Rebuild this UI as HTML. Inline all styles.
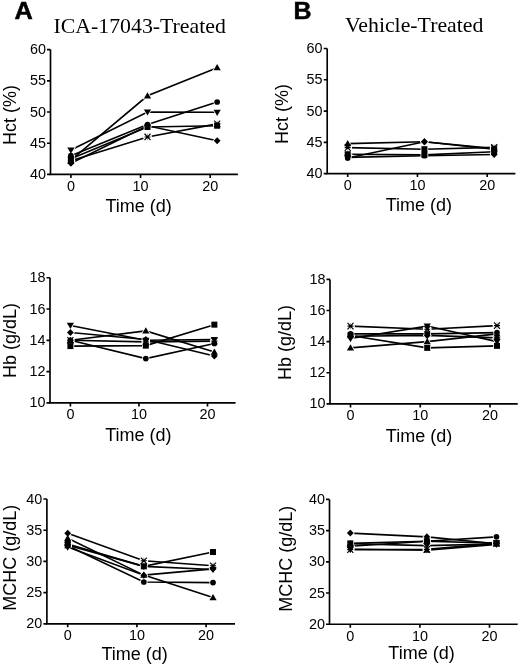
<!DOCTYPE html>
<html><head><meta charset="utf-8"><style>
html,body{margin:0;padding:0;background:#fff;width:520px;height:666px;overflow:hidden}
svg{display:block;will-change:transform}
.halo *{fill:#fff;stroke:#fff;stroke-width:1.6}
.s{font-family:"Liberation Sans",sans-serif}
.r{font-family:"Liberation Serif",serif}
</style></head><body>
<svg width="520" height="666" viewBox="0 0 520 666">
<rect width="520" height="666" fill="#fff"/>

<text class="s" x="14.6" y="19.4" font-size="24" font-weight="bold" stroke="#000" stroke-width="0.5" textLength="18.3" lengthAdjust="spacingAndGlyphs">A</text>
<text class="s" x="293.6" y="19.2" font-size="24" font-weight="bold" stroke="#000" stroke-width="0.5" textLength="18.0" lengthAdjust="spacingAndGlyphs">B</text>
<text class="r" x="139.7" y="33.4" font-size="21.8" text-anchor="middle">ICA-17043-Treated</text>
<text class="r" x="414.2" y="32.2" font-size="21.8" text-anchor="middle">Vehicle-Treated</text>
<path fill="none" stroke="#000" stroke-width="1.65" d="M50.50,49.60V174.40H237.90"/>
<text class="s" x="45.90" y="178.90" font-size="14.4" text-anchor="end">40</text>
<text class="s" x="45.90" y="147.70" font-size="14.4" text-anchor="end">45</text>
<text class="s" x="45.90" y="116.50" font-size="14.4" text-anchor="end">50</text>
<text class="s" x="45.90" y="85.30" font-size="14.4" text-anchor="end">55</text>
<text class="s" x="45.90" y="54.10" font-size="14.4" text-anchor="end">60</text>
<text class="s" x="70.90" y="190.80" font-size="14.4" text-anchor="middle">0</text>
<text class="s" x="140.55" y="190.80" font-size="14.4" text-anchor="middle">10</text>
<text class="s" x="210.20" y="190.80" font-size="14.4" text-anchor="middle">20</text>
<path fill="none" stroke="#000" stroke-width="1.65" d="M47.00,174.40H50.50M47.00,143.20H50.50M47.00,112.00H50.50M47.00,80.80H50.50M47.00,49.60H50.50M70.90,174.40V177.90M140.55,174.40V177.90M210.20,174.40V177.90"/>
<text class="s" x="138.60" y="212.00" font-size="18" text-anchor="middle">Time (d)</text>
<text class="s" transform="translate(16.30,115.10) rotate(-90)" x="0" y="0" font-size="18" text-anchor="middle">Hct (%)</text>
<polyline fill="none" stroke="#000" stroke-width="1.6" points="70.90,160.05 147.51,95.78 217.16,67.70"/>
<polyline fill="none" stroke="#000" stroke-width="1.6" points="70.90,150.06 147.51,112.00 217.16,112.31"/>
<polyline fill="none" stroke="#000" stroke-width="1.6" points="70.90,155.68 147.51,124.48 217.16,102.02"/>
<polyline fill="none" stroke="#000" stroke-width="1.6" points="70.90,158.80 147.51,126.98 217.16,125.73"/>
<polyline fill="none" stroke="#000" stroke-width="1.6" points="70.90,160.67 147.51,136.96 217.16,123.86"/>
<polyline fill="none" stroke="#000" stroke-width="1.6" points="70.90,163.17 147.51,125.73 217.16,140.70"/>
<g class="halo">
<circle cx="70.90" cy="160.67" r="3.6"/>
<circle cx="147.51" cy="136.96" r="3.6"/>
<circle cx="217.16" cy="123.86" r="3.6"/>
<path d="M67.30,162.65L74.50,162.65L70.90,156.45Z"/>
<path d="M143.91,98.38L151.11,98.38L147.51,92.18Z"/>
<path d="M213.56,70.30L220.76,70.30L217.16,64.10Z"/>
<path d="M67.30,147.46L74.50,147.46L70.90,153.66Z"/>
<path d="M143.91,109.40L151.11,109.40L147.51,115.60Z"/>
<path d="M213.56,109.71L220.76,109.71L217.16,115.91Z"/>
<circle cx="70.90" cy="155.68" r="2.85"/>
<circle cx="147.51" cy="124.48" r="2.85"/>
<circle cx="217.16" cy="102.02" r="2.85"/>
<rect x="67.90" y="155.80" width="6" height="6"/>
<rect x="144.51" y="123.98" width="6" height="6"/>
<rect x="214.16" y="122.73" width="6" height="6"/>
<path d="M70.90,159.67L74.30,163.17L70.90,166.67L67.50,163.17Z"/>
<path d="M147.51,122.23L150.91,125.73L147.51,129.23L144.11,125.73Z"/>
<path d="M217.16,137.20L220.56,140.70L217.16,144.20L213.76,140.70Z"/>
</g><g>
<g fill="none" stroke="#000"><path stroke-width="1.15" d="M67.90,157.47L73.90,163.87M67.90,163.87L73.90,157.47M67.90,160.67H73.90"/><path stroke-width="0.6" stroke="#666" d="M70.90,157.47V163.87"/></g><circle cx="70.90" cy="160.67" r="1.3"/>
<g fill="none" stroke="#000"><path stroke-width="1.15" d="M144.51,133.76L150.51,140.16M144.51,140.16L150.51,133.76M144.51,136.96H150.51"/><path stroke-width="0.6" stroke="#666" d="M147.51,133.76V140.16"/></g><circle cx="147.51" cy="136.96" r="1.3"/>
<g fill="none" stroke="#000"><path stroke-width="1.15" d="M214.16,120.66L220.16,127.06M214.16,127.06L220.16,120.66M214.16,123.86H220.16"/><path stroke-width="0.6" stroke="#666" d="M217.16,120.66V127.06"/></g><circle cx="217.16" cy="123.86" r="1.3"/>
<path class="h" d="M67.30,162.65L74.50,162.65L70.90,156.45Z"/>
<path class="h" d="M143.91,98.38L151.11,98.38L147.51,92.18Z"/>
<path class="h" d="M213.56,70.30L220.76,70.30L217.16,64.10Z"/>
<path class="h" d="M67.30,147.46L74.50,147.46L70.90,153.66Z"/>
<path class="h" d="M143.91,109.40L151.11,109.40L147.51,115.60Z"/>
<path class="h" d="M213.56,109.71L220.76,109.71L217.16,115.91Z"/>
<circle class="h" cx="70.90" cy="155.68" r="2.85"/>
<circle class="h" cx="147.51" cy="124.48" r="2.85"/>
<circle class="h" cx="217.16" cy="102.02" r="2.85"/>
<rect class="h" x="67.90" y="155.80" width="6" height="6"/>
<rect class="h" x="144.51" y="123.98" width="6" height="6"/>
<rect class="h" x="214.16" y="122.73" width="6" height="6"/>
<path class="h" d="M70.90,159.67L74.30,163.17L70.90,166.67L67.50,163.17Z"/>
<path class="h" d="M147.51,122.23L150.91,125.73L147.51,129.23L144.11,125.73Z"/>
<path class="h" d="M217.16,137.20L220.56,140.70L217.16,144.20L213.76,140.70Z"/>
</g>
<path fill="none" stroke="#000" stroke-width="1.65" d="M50.00,277.70V402.90H235.60"/>
<text class="s" x="45.40" y="407.40" font-size="14.4" text-anchor="end">10</text>
<text class="s" x="45.40" y="376.10" font-size="14.4" text-anchor="end">12</text>
<text class="s" x="45.40" y="344.80" font-size="14.4" text-anchor="end">14</text>
<text class="s" x="45.40" y="313.50" font-size="14.4" text-anchor="end">16</text>
<text class="s" x="45.40" y="282.20" font-size="14.4" text-anchor="end">18</text>
<text class="s" x="70.40" y="419.30" font-size="14.4" text-anchor="middle">0</text>
<text class="s" x="138.95" y="419.30" font-size="14.4" text-anchor="middle">10</text>
<text class="s" x="207.50" y="419.30" font-size="14.4" text-anchor="middle">20</text>
<path fill="none" stroke="#000" stroke-width="1.65" d="M46.50,402.90H50.00M46.50,371.60H50.00M46.50,340.30H50.00M46.50,309.00H50.00M46.50,277.70H50.00M70.40,402.90V406.40M138.95,402.90V406.40M207.50,402.90V406.40"/>
<text class="s" x="138.40" y="440.80" font-size="18" text-anchor="middle">Time (d)</text>
<text class="s" transform="translate(16.20,340.60) rotate(-90)" x="0" y="0" font-size="18" text-anchor="middle">Hb (g/dL)</text>
<polyline fill="none" stroke="#000" stroke-width="1.6" points="70.40,325.43 145.81,340.30 214.36,339.52"/>
<polyline fill="none" stroke="#000" stroke-width="1.6" points="70.40,332.47 145.81,339.52 214.36,355.95"/>
<polyline fill="none" stroke="#000" stroke-width="1.6" points="70.40,340.30 145.81,330.91 214.36,352.04"/>
<polyline fill="none" stroke="#000" stroke-width="1.6" points="70.40,346.09 145.81,345.62 214.36,324.65"/>
<polyline fill="none" stroke="#000" stroke-width="1.6" points="70.40,340.30 145.81,358.61 214.36,343.43"/>
<polyline fill="none" stroke="#000" stroke-width="1.6" points="70.40,340.30 145.81,341.87 214.36,341.08"/>
<g class="halo">
<circle cx="70.40" cy="340.30" r="3.6"/>
<circle cx="145.81" cy="341.87" r="3.6"/>
<circle cx="214.36" cy="341.08" r="3.6"/>
<path d="M66.80,322.83L74.00,322.83L70.40,329.03Z"/>
<path d="M142.21,337.70L149.41,337.70L145.81,343.90Z"/>
<path d="M210.76,336.92L217.96,336.92L214.36,343.12Z"/>
<path d="M70.40,328.97L73.80,332.47L70.40,335.97L67.00,332.47Z"/>
<path d="M145.81,336.02L149.21,339.52L145.81,343.02L142.41,339.52Z"/>
<path d="M214.36,352.45L217.76,355.95L214.36,359.45L210.96,355.95Z"/>
<path d="M66.80,342.90L74.00,342.90L70.40,336.70Z"/>
<path d="M142.21,333.51L149.41,333.51L145.81,327.31Z"/>
<path d="M210.76,354.64L217.96,354.64L214.36,348.44Z"/>
<rect x="67.40" y="343.09" width="6" height="6"/>
<rect x="142.81" y="342.62" width="6" height="6"/>
<rect x="211.36" y="321.65" width="6" height="6"/>
<circle cx="70.40" cy="340.30" r="2.85"/>
<circle cx="145.81" cy="358.61" r="2.85"/>
<circle cx="214.36" cy="343.43" r="2.85"/>
</g><g>
<g fill="none" stroke="#000"><path stroke-width="1.15" d="M67.40,337.10L73.40,343.50M67.40,343.50L73.40,337.10M67.40,340.30H73.40"/><path stroke-width="0.6" stroke="#666" d="M70.40,337.10V343.50"/></g><circle cx="70.40" cy="340.30" r="1.3"/>
<g fill="none" stroke="#000"><path stroke-width="1.15" d="M142.81,338.67L148.81,345.06M142.81,345.06L148.81,338.67M142.81,341.87H148.81"/><path stroke-width="0.6" stroke="#666" d="M145.81,338.67V345.06"/></g><circle cx="145.81" cy="341.87" r="1.3"/>
<g fill="none" stroke="#000"><path stroke-width="1.15" d="M211.36,337.88L217.36,344.28M211.36,344.28L217.36,337.88M211.36,341.08H217.36"/><path stroke-width="0.6" stroke="#666" d="M214.36,337.88V344.28"/></g><circle cx="214.36" cy="341.08" r="1.3"/>
<path class="h" d="M66.80,322.83L74.00,322.83L70.40,329.03Z"/>
<path class="h" d="M142.21,337.70L149.41,337.70L145.81,343.90Z"/>
<path class="h" d="M210.76,336.92L217.96,336.92L214.36,343.12Z"/>
<path class="h" d="M70.40,328.97L73.80,332.47L70.40,335.97L67.00,332.47Z"/>
<path class="h" d="M145.81,336.02L149.21,339.52L145.81,343.02L142.41,339.52Z"/>
<path class="h" d="M214.36,352.45L217.76,355.95L214.36,359.45L210.96,355.95Z"/>
<path class="h" d="M66.80,342.90L74.00,342.90L70.40,336.70Z"/>
<path class="h" d="M142.21,333.51L149.41,333.51L145.81,327.31Z"/>
<path class="h" d="M210.76,354.64L217.96,354.64L214.36,348.44Z"/>
<rect class="h" x="67.40" y="343.09" width="6" height="6"/>
<rect class="h" x="142.81" y="342.62" width="6" height="6"/>
<rect class="h" x="211.36" y="321.65" width="6" height="6"/>
<circle class="h" cx="70.40" cy="340.30" r="2.85"/>
<circle class="h" cx="145.81" cy="358.61" r="2.85"/>
<circle class="h" cx="214.36" cy="343.43" r="2.85"/>
</g>
<path fill="none" stroke="#000" stroke-width="1.65" d="M46.90,499.00V623.80H235.00"/>
<text class="s" x="42.30" y="628.30" font-size="14.4" text-anchor="end">20</text>
<text class="s" x="42.30" y="597.10" font-size="14.4" text-anchor="end">25</text>
<text class="s" x="42.30" y="565.90" font-size="14.4" text-anchor="end">30</text>
<text class="s" x="42.30" y="534.70" font-size="14.4" text-anchor="end">35</text>
<text class="s" x="42.30" y="503.50" font-size="14.4" text-anchor="end">40</text>
<text class="s" x="67.70" y="640.20" font-size="14.4" text-anchor="middle">0</text>
<text class="s" x="136.90" y="640.20" font-size="14.4" text-anchor="middle">10</text>
<text class="s" x="206.10" y="640.20" font-size="14.4" text-anchor="middle">20</text>
<path fill="none" stroke="#000" stroke-width="1.65" d="M43.40,623.80H46.90M43.40,592.60H46.90M43.40,561.40H46.90M43.40,530.20H46.90M43.40,499.00H46.90M67.70,623.80V627.30M136.90,623.80V627.30M206.10,623.80V627.30"/>
<text class="s" x="134.60" y="659.70" font-size="18" text-anchor="middle">Time (d)</text>
<text class="s" transform="translate(16.40,557.80) rotate(-90)" x="0" y="0" font-size="18" text-anchor="middle">MCHC (g/dL)</text>
<polyline fill="none" stroke="#000" stroke-width="1.6" points="67.70,533.32 143.82,560.78 213.02,565.77"/>
<polyline fill="none" stroke="#000" stroke-width="1.6" points="67.70,538.31 143.82,575.13 213.02,597.59"/>
<polyline fill="none" stroke="#000" stroke-width="1.6" points="67.70,543.93 143.82,566.39 213.02,552.04"/>
<polyline fill="none" stroke="#000" stroke-width="1.6" points="67.70,545.18 143.82,566.39 213.02,569.51"/>
<polyline fill="none" stroke="#000" stroke-width="1.6" points="67.70,547.05 143.82,575.13 213.02,568.89"/>
<polyline fill="none" stroke="#000" stroke-width="1.6" points="67.70,545.80 143.82,581.99 213.02,582.62"/>
<g class="halo">
<circle cx="143.82" cy="560.78" r="3.6"/>
<circle cx="213.02" cy="565.77" r="3.6"/>
<circle cx="67.70" cy="545.18" r="3.6"/>
<path d="M67.70,529.82L71.10,533.32L67.70,536.82L64.30,533.32Z"/>
<path d="M64.10,540.91L71.30,540.91L67.70,534.71Z"/>
<path d="M140.22,577.73L147.42,577.73L143.82,571.53Z"/>
<path d="M209.42,600.19L216.62,600.19L213.02,593.99Z"/>
<rect x="64.70" y="540.93" width="6" height="6"/>
<rect x="140.82" y="563.39" width="6" height="6"/>
<rect x="210.02" y="549.04" width="6" height="6"/>
<path d="M140.22,563.79L147.42,563.79L143.82,569.99Z"/>
<path d="M209.42,566.91L216.62,566.91L213.02,573.11Z"/>
<path d="M64.10,544.45L71.30,544.45L67.70,550.65Z"/>
<path d="M143.82,571.63L147.22,575.13L143.82,578.63L140.42,575.13Z"/>
<path d="M213.02,565.39L216.42,568.89L213.02,572.39L209.62,568.89Z"/>
<circle cx="67.70" cy="545.80" r="2.85"/>
<circle cx="143.82" cy="581.99" r="2.85"/>
<circle cx="213.02" cy="582.62" r="2.85"/>
</g><g>
<g fill="none" stroke="#000"><path stroke-width="1.15" d="M140.82,557.58L146.82,563.98M140.82,563.98L146.82,557.58M140.82,560.78H146.82"/><path stroke-width="0.6" stroke="#666" d="M143.82,557.58V563.98"/></g><circle cx="143.82" cy="560.78" r="1.3"/>
<g fill="none" stroke="#000"><path stroke-width="1.15" d="M210.02,562.57L216.02,568.97M210.02,568.97L216.02,562.57M210.02,565.77H216.02"/><path stroke-width="0.6" stroke="#666" d="M213.02,562.57V568.97"/></g><circle cx="213.02" cy="565.77" r="1.3"/>
<g fill="none" stroke="#000"><path stroke-width="1.15" d="M64.70,541.98L70.70,548.38M64.70,548.38L70.70,541.98M64.70,545.18H70.70"/><path stroke-width="0.6" stroke="#666" d="M67.70,541.98V548.38"/></g><circle cx="67.70" cy="545.18" r="1.3"/>
<path class="h" d="M67.70,529.82L71.10,533.32L67.70,536.82L64.30,533.32Z"/>
<path class="h" d="M64.10,540.91L71.30,540.91L67.70,534.71Z"/>
<path class="h" d="M140.22,577.73L147.42,577.73L143.82,571.53Z"/>
<path class="h" d="M209.42,600.19L216.62,600.19L213.02,593.99Z"/>
<rect class="h" x="64.70" y="540.93" width="6" height="6"/>
<rect class="h" x="140.82" y="563.39" width="6" height="6"/>
<rect class="h" x="210.02" y="549.04" width="6" height="6"/>
<path class="h" d="M140.22,563.79L147.42,563.79L143.82,569.99Z"/>
<path class="h" d="M209.42,566.91L216.62,566.91L213.02,573.11Z"/>
<path class="h" d="M64.10,544.45L71.30,544.45L67.70,550.65Z"/>
<path class="h" d="M143.82,571.63L147.22,575.13L143.82,578.63L140.42,575.13Z"/>
<path class="h" d="M213.02,565.39L216.42,568.89L213.02,572.39L209.62,568.89Z"/>
<circle class="h" cx="67.70" cy="545.80" r="2.85"/>
<circle class="h" cx="143.82" cy="581.99" r="2.85"/>
<circle class="h" cx="213.02" cy="582.62" r="2.85"/>
</g>
<path fill="none" stroke="#000" stroke-width="1.65" d="M327.20,48.50V173.60H515.40"/>
<text class="s" x="322.60" y="178.10" font-size="14.4" text-anchor="end">40</text>
<text class="s" x="322.60" y="146.82" font-size="14.4" text-anchor="end">45</text>
<text class="s" x="322.60" y="115.55" font-size="14.4" text-anchor="end">50</text>
<text class="s" x="322.60" y="84.27" font-size="14.4" text-anchor="end">55</text>
<text class="s" x="322.60" y="53.00" font-size="14.4" text-anchor="end">60</text>
<text class="s" x="347.70" y="190.00" font-size="14.4" text-anchor="middle">0</text>
<text class="s" x="417.45" y="190.00" font-size="14.4" text-anchor="middle">10</text>
<text class="s" x="487.20" y="190.00" font-size="14.4" text-anchor="middle">20</text>
<path fill="none" stroke="#000" stroke-width="1.65" d="M323.70,173.60H327.20M323.70,142.32H327.20M323.70,111.05H327.20M323.70,79.77H327.20M323.70,48.50H327.20M347.70,173.60V177.10M417.45,173.60V177.10M487.20,173.60V177.10"/>
<text class="s" x="418.85" y="210.80" font-size="18" text-anchor="middle">Time (d)</text>
<text class="s" transform="translate(287.60,114.00) rotate(-90)" x="0" y="0" font-size="18" text-anchor="middle">Hct (%)</text>
<polyline fill="none" stroke="#000" stroke-width="1.6" points="347.70,143.58 424.42,141.70 494.17,148.58"/>
<polyline fill="none" stroke="#000" stroke-width="1.6" points="347.70,147.64 424.42,149.21 494.17,147.33"/>
<polyline fill="none" stroke="#000" stroke-width="1.6" points="347.70,157.96 424.42,141.70 494.17,149.21"/>
<polyline fill="none" stroke="#000" stroke-width="1.6" points="347.70,154.21 424.42,154.84 494.17,151.71"/>
<polyline fill="none" stroke="#000" stroke-width="1.6" points="347.70,157.34 424.42,155.77 494.17,154.52"/>
<g class="halo">
<circle cx="494.17" cy="148.58" r="3.6"/>
<circle cx="347.70" cy="147.64" r="3.6"/>
<circle cx="494.17" cy="147.33" r="3.6"/>
<path d="M344.10,146.18L351.30,146.18L347.70,139.98Z"/>
<path d="M424.42,138.20L427.82,141.70L424.42,145.20L421.02,141.70Z"/>
<rect x="421.42" y="146.21" width="6" height="6"/>
<circle cx="347.70" cy="157.96" r="2.85"/>
<path d="M424.42,138.20L427.82,141.70L424.42,145.20L421.02,141.70Z"/>
<circle cx="494.17" cy="149.21" r="2.85"/>
<rect x="344.70" y="151.21" width="6" height="6"/>
<rect x="421.42" y="151.84" width="6" height="6"/>
<rect x="491.17" y="148.71" width="6" height="6"/>
<path d="M344.10,154.74L351.30,154.74L347.70,160.94Z"/>
<circle cx="424.42" cy="155.77" r="2.85"/>
<path d="M494.17,151.02L497.57,154.52L494.17,158.02L490.77,154.52Z"/>
</g><g>
<g fill="none" stroke="#000"><path stroke-width="1.15" d="M491.17,145.38L497.17,151.78M491.17,151.78L497.17,145.38M491.17,148.58H497.17"/><path stroke-width="0.6" stroke="#666" d="M494.17,145.38V151.78"/></g><circle cx="494.17" cy="148.58" r="1.3"/>
<g fill="none" stroke="#000"><path stroke-width="1.15" d="M344.70,144.44L350.70,150.84M344.70,150.84L350.70,144.44M344.70,147.64H350.70"/><path stroke-width="0.6" stroke="#666" d="M347.70,144.44V150.84"/></g><circle cx="347.70" cy="147.64" r="1.3"/>
<g fill="none" stroke="#000"><path stroke-width="1.15" d="M491.17,144.13L497.17,150.53M491.17,150.53L497.17,144.13M491.17,147.33H497.17"/><path stroke-width="0.6" stroke="#666" d="M494.17,144.13V150.53"/></g><circle cx="494.17" cy="147.33" r="1.3"/>
<path class="h" d="M344.10,146.18L351.30,146.18L347.70,139.98Z"/>
<path class="h" d="M424.42,138.20L427.82,141.70L424.42,145.20L421.02,141.70Z"/>
<rect class="h" x="421.42" y="146.21" width="6" height="6"/>
<circle class="h" cx="347.70" cy="157.96" r="2.85"/>
<path class="h" d="M424.42,138.20L427.82,141.70L424.42,145.20L421.02,141.70Z"/>
<circle class="h" cx="494.17" cy="149.21" r="2.85"/>
<rect class="h" x="344.70" y="151.21" width="6" height="6"/>
<rect class="h" x="421.42" y="151.84" width="6" height="6"/>
<rect class="h" x="491.17" y="148.71" width="6" height="6"/>
<path class="h" d="M344.10,154.74L351.30,154.74L347.70,160.94Z"/>
<circle class="h" cx="424.42" cy="155.77" r="2.85"/>
<path class="h" d="M494.17,151.02L497.57,154.52L494.17,158.02L490.77,154.52Z"/>
</g>
<path fill="none" stroke="#000" stroke-width="1.65" d="M330.00,279.40V403.90H517.70"/>
<text class="s" x="325.40" y="408.40" font-size="14.4" text-anchor="end">10</text>
<text class="s" x="325.40" y="377.27" font-size="14.4" text-anchor="end">12</text>
<text class="s" x="325.40" y="346.15" font-size="14.4" text-anchor="end">14</text>
<text class="s" x="325.40" y="315.02" font-size="14.4" text-anchor="end">16</text>
<text class="s" x="325.40" y="283.90" font-size="14.4" text-anchor="end">18</text>
<text class="s" x="350.50" y="420.30" font-size="14.4" text-anchor="middle">0</text>
<text class="s" x="420.25" y="420.30" font-size="14.4" text-anchor="middle">10</text>
<text class="s" x="490.00" y="420.30" font-size="14.4" text-anchor="middle">20</text>
<path fill="none" stroke="#000" stroke-width="1.65" d="M326.50,403.90H330.00M326.50,372.77H330.00M326.50,341.65H330.00M326.50,310.52H330.00M326.50,279.40H330.00M350.50,403.90V407.40M420.25,403.90V407.40M490.00,403.90V407.40"/>
<text class="s" x="419.00" y="441.50" font-size="18" text-anchor="middle">Time (d)</text>
<text class="s" transform="translate(290.90,342.60) rotate(-90)" x="0" y="0" font-size="18" text-anchor="middle">Hb (g/dL)</text>
<polyline fill="none" stroke="#000" stroke-width="1.6" points="350.50,335.42 427.23,347.88 496.98,345.85"/>
<polyline fill="none" stroke="#000" stroke-width="1.6" points="350.50,326.09 427.23,329.20 496.98,325.62"/>
<polyline fill="none" stroke="#000" stroke-width="1.6" points="350.50,333.87 427.23,333.87 496.98,332.62"/>
<polyline fill="none" stroke="#000" stroke-width="1.6" points="350.50,338.54 427.23,326.09 496.98,341.65"/>
<polyline fill="none" stroke="#000" stroke-width="1.6" points="350.50,336.20 427.23,335.42 496.98,337.91"/>
<polyline fill="none" stroke="#000" stroke-width="1.6" points="350.50,347.88 427.23,341.65 496.98,333.87"/>
<g class="halo">
<circle cx="350.50" cy="326.09" r="3.6"/>
<circle cx="427.23" cy="329.20" r="3.6"/>
<circle cx="496.98" cy="325.62" r="3.6"/>
<rect x="347.50" y="332.42" width="6" height="6"/>
<rect x="424.23" y="344.88" width="6" height="6"/>
<rect x="493.98" y="342.85" width="6" height="6"/>
<circle cx="350.50" cy="333.87" r="2.85"/>
<circle cx="427.23" cy="333.87" r="2.85"/>
<circle cx="496.98" cy="332.62" r="2.85"/>
<path d="M346.90,335.94L354.10,335.94L350.50,342.14Z"/>
<path d="M423.62,323.49L430.83,323.49L427.23,329.69Z"/>
<path d="M493.38,339.05L500.58,339.05L496.98,345.25Z"/>
<path d="M350.50,332.70L353.90,336.20L350.50,339.70L347.10,336.20Z"/>
<path d="M427.23,331.92L430.62,335.42L427.23,338.92L423.83,335.42Z"/>
<path d="M496.98,334.41L500.38,337.91L496.98,341.41L493.58,337.91Z"/>
<path d="M346.90,350.48L354.10,350.48L350.50,344.27Z"/>
<path d="M423.62,344.25L430.83,344.25L427.23,338.05Z"/>
<path d="M493.38,336.47L500.58,336.47L496.98,330.27Z"/>
</g><g>
<g fill="none" stroke="#000"><path stroke-width="1.15" d="M347.50,322.89L353.50,329.29M347.50,329.29L353.50,322.89M347.50,326.09H353.50"/><path stroke-width="0.6" stroke="#666" d="M350.50,322.89V329.29"/></g><circle cx="350.50" cy="326.09" r="1.3"/>
<g fill="none" stroke="#000"><path stroke-width="1.15" d="M424.23,326.00L430.23,332.40M424.23,332.40L430.23,326.00M424.23,329.20H430.23"/><path stroke-width="0.6" stroke="#666" d="M427.23,326.00V332.40"/></g><circle cx="427.23" cy="329.20" r="1.3"/>
<g fill="none" stroke="#000"><path stroke-width="1.15" d="M493.98,322.42L499.98,328.82M493.98,328.82L499.98,322.42M493.98,325.62H499.98"/><path stroke-width="0.6" stroke="#666" d="M496.98,322.42V328.82"/></g><circle cx="496.98" cy="325.62" r="1.3"/>
<rect class="h" x="347.50" y="332.42" width="6" height="6"/>
<rect class="h" x="424.23" y="344.88" width="6" height="6"/>
<rect class="h" x="493.98" y="342.85" width="6" height="6"/>
<circle class="h" cx="350.50" cy="333.87" r="2.85"/>
<circle class="h" cx="427.23" cy="333.87" r="2.85"/>
<circle class="h" cx="496.98" cy="332.62" r="2.85"/>
<path class="h" d="M346.90,335.94L354.10,335.94L350.50,342.14Z"/>
<path class="h" d="M423.62,323.49L430.83,323.49L427.23,329.69Z"/>
<path class="h" d="M493.38,339.05L500.58,339.05L496.98,345.25Z"/>
<path class="h" d="M350.50,332.70L353.90,336.20L350.50,339.70L347.10,336.20Z"/>
<path class="h" d="M427.23,331.92L430.62,335.42L427.23,338.92L423.83,335.42Z"/>
<path class="h" d="M496.98,334.41L500.38,337.91L496.98,341.41L493.58,337.91Z"/>
<path class="h" d="M346.90,350.48L354.10,350.48L350.50,344.27Z"/>
<path class="h" d="M423.62,344.25L430.83,344.25L427.23,338.05Z"/>
<path class="h" d="M493.38,336.47L500.58,336.47L496.98,330.27Z"/>
</g>
<path fill="none" stroke="#000" stroke-width="1.65" d="M329.50,499.40V624.20H517.70"/>
<text class="s" x="324.90" y="628.70" font-size="14.4" text-anchor="end">20</text>
<text class="s" x="324.90" y="597.50" font-size="14.4" text-anchor="end">25</text>
<text class="s" x="324.90" y="566.30" font-size="14.4" text-anchor="end">30</text>
<text class="s" x="324.90" y="535.10" font-size="14.4" text-anchor="end">35</text>
<text class="s" x="324.90" y="503.90" font-size="14.4" text-anchor="end">40</text>
<text class="s" x="350.30" y="640.60" font-size="14.4" text-anchor="middle">0</text>
<text class="s" x="419.90" y="640.60" font-size="14.4" text-anchor="middle">10</text>
<text class="s" x="489.50" y="640.60" font-size="14.4" text-anchor="middle">20</text>
<path fill="none" stroke="#000" stroke-width="1.65" d="M326.00,624.20H329.50M326.00,593.00H329.50M326.00,561.80H329.50M326.00,530.60H329.50M326.00,499.40H329.50M350.30,624.20V627.70M419.90,624.20V627.70M489.50,624.20V627.70"/>
<text class="s" x="421.50" y="659.20" font-size="18" text-anchor="middle">Time (d)</text>
<text class="s" transform="translate(291.60,558.75) rotate(-90)" x="0" y="0" font-size="18" text-anchor="middle">MCHC (g/dL)</text>
<polyline fill="none" stroke="#000" stroke-width="1.6" points="350.30,533.10 426.86,536.84 496.46,543.70"/>
<polyline fill="none" stroke="#000" stroke-width="1.6" points="350.30,543.39 426.86,541.21 496.46,543.08"/>
<polyline fill="none" stroke="#000" stroke-width="1.6" points="350.30,546.20 426.86,541.21 496.46,536.84"/>
<polyline fill="none" stroke="#000" stroke-width="1.6" points="350.30,543.70 426.86,545.58 496.46,544.02"/>
<polyline fill="none" stroke="#000" stroke-width="1.6" points="350.30,549.63 426.86,549.32 496.46,543.39"/>
<polyline fill="none" stroke="#000" stroke-width="1.6" points="350.30,549.32 426.86,550.26 496.46,544.33"/>
<g class="halo">
<circle cx="350.30" cy="549.63" r="3.6"/>
<circle cx="426.86" cy="549.32" r="3.6"/>
<circle cx="496.46" cy="543.39" r="3.6"/>
<path d="M350.30,529.60L353.70,533.10L350.30,536.60L346.90,533.10Z"/>
<path d="M426.86,533.34L430.26,536.84L426.86,540.34L423.46,536.84Z"/>
<path d="M496.46,540.20L499.86,543.70L496.46,547.20L493.06,543.70Z"/>
<rect x="347.30" y="540.39" width="6" height="6"/>
<rect x="423.86" y="538.21" width="6" height="6"/>
<rect x="493.46" y="540.08" width="6" height="6"/>
<circle cx="350.30" cy="546.20" r="2.85"/>
<circle cx="426.86" cy="541.21" r="2.85"/>
<circle cx="496.46" cy="536.84" r="2.85"/>
<path d="M346.70,546.30L353.90,546.30L350.30,540.10Z"/>
<path d="M423.26,542.98L430.46,542.98L426.86,549.18Z"/>
<path d="M492.86,546.62L500.06,546.62L496.46,540.42Z"/>
<path d="M346.70,546.72L353.90,546.72L350.30,552.92Z"/>
<path d="M423.26,552.86L430.46,552.86L426.86,546.66Z"/>
<path d="M492.86,541.73L500.06,541.73L496.46,547.93Z"/>
</g><g>
<g fill="none" stroke="#000"><path stroke-width="1.15" d="M347.30,546.43L353.30,552.83M347.30,552.83L353.30,546.43M347.30,549.63H353.30"/><path stroke-width="0.6" stroke="#666" d="M350.30,546.43V552.83"/></g><circle cx="350.30" cy="549.63" r="1.3"/>
<g fill="none" stroke="#000"><path stroke-width="1.15" d="M423.86,546.12L429.86,552.52M423.86,552.52L429.86,546.12M423.86,549.32H429.86"/><path stroke-width="0.6" stroke="#666" d="M426.86,546.12V552.52"/></g><circle cx="426.86" cy="549.32" r="1.3"/>
<g fill="none" stroke="#000"><path stroke-width="1.15" d="M493.46,540.19L499.46,546.59M493.46,546.59L499.46,540.19M493.46,543.39H499.46"/><path stroke-width="0.6" stroke="#666" d="M496.46,540.19V546.59"/></g><circle cx="496.46" cy="543.39" r="1.3"/>
<path class="h" d="M350.30,529.60L353.70,533.10L350.30,536.60L346.90,533.10Z"/>
<path class="h" d="M426.86,533.34L430.26,536.84L426.86,540.34L423.46,536.84Z"/>
<path class="h" d="M496.46,540.20L499.86,543.70L496.46,547.20L493.06,543.70Z"/>
<rect class="h" x="347.30" y="540.39" width="6" height="6"/>
<rect class="h" x="423.86" y="538.21" width="6" height="6"/>
<rect class="h" x="493.46" y="540.08" width="6" height="6"/>
<circle class="h" cx="350.30" cy="546.20" r="2.85"/>
<circle class="h" cx="426.86" cy="541.21" r="2.85"/>
<circle class="h" cx="496.46" cy="536.84" r="2.85"/>
<path class="h" d="M346.70,546.30L353.90,546.30L350.30,540.10Z"/>
<path class="h" d="M423.26,542.98L430.46,542.98L426.86,549.18Z"/>
<path class="h" d="M492.86,546.62L500.06,546.62L496.46,540.42Z"/>
<path class="h" d="M346.70,546.72L353.90,546.72L350.30,552.92Z"/>
<path class="h" d="M423.26,552.86L430.46,552.86L426.86,546.66Z"/>
<path class="h" d="M492.86,541.73L500.06,541.73L496.46,547.93Z"/>
</g>
</svg>
</body></html>
